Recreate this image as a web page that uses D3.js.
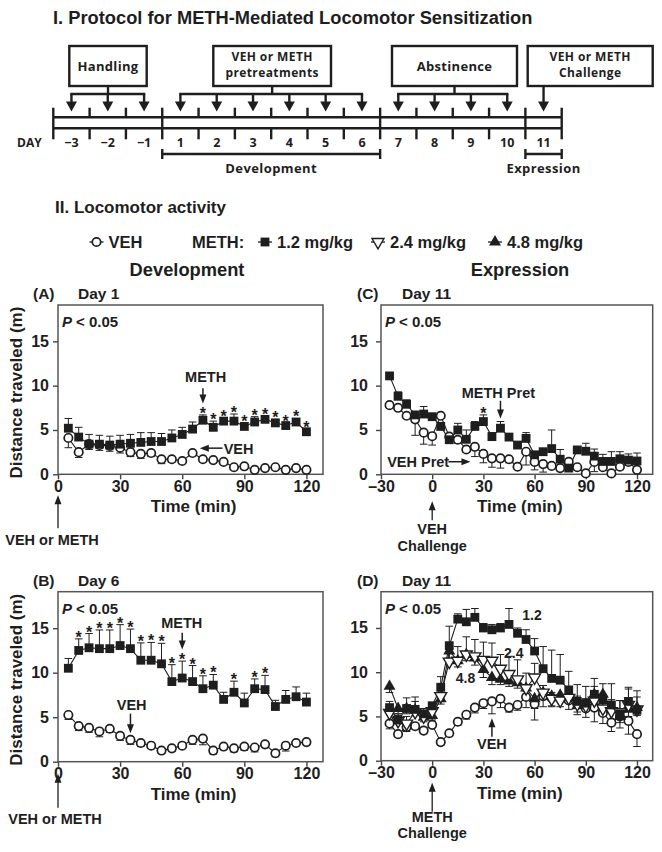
<!DOCTYPE html>
<html><head><meta charset="utf-8">
<script src="https://cdn.jsdelivr.net/npm/d3@7/dist/d3.min.js"></script>
<style>body{margin:0;background:#fff}svg{display:block}</style>
</head><body><svg id="c" width="662" height="852"></svg>
<script>
// ---------------- DATA ----------------
const protoDays = ["\u22123","\u22122","\u22121","1","2","3","4","5","6","7","8","9","10","11"];
const protoBoxLabels = [["Handling"],["VEH or METH","pretreatments"],["Abstinence"],["VEH or METH","Challenge"]];
const protoArrowCells = [[0,1,2],[3,4,5,6,7,8],[9,10,11,12],[13]];
const protoPhases = ["Development","Expression"];
const protoPhaseCells = [[3,9],[13,14]];

const legendLabels = ["VEH","1.2 mg/kg","2.4 mg/kg","4.8 mg/kg"];

const timeDev = [5,10,15,20,25,30,35,40,45,50,55,60,65,70,75,80,85,90,95,100,105,110,115,120];
const timeExp = [-25,-20,-15,-10,-5,0,5,10,15,20,25,30,35,40,45,50,55,60,65,70,75,80,85,90,95,100,105,110,115,120];
const yTickVals = [0,5,10,15];
const xTickDev = [0,30,60,90,120];
const xTickExp = [-30,0,30,60,90,120];

// (A) Day 1
const aMeth    = [5.2,4.2,3.4,3.4,3.3,3.4,3.5,3.6,3.7,3.7,4.1,4.5,5.1,6.1,5.3,6.0,6.0,5.4,5.9,6.2,5.8,5.5,5.9,4.8];
const aMethErr = [1.1,1.1,1.1,1.0,1.0,1.0,1.0,1.1,1.0,0.9,0.9,0.8,0.8,0.6,0.7,0.3,0.8,0.4,0.6,0.4,0.4,0.3,0.4,0.3];
const aVeh     = [4.1,2.5,3.4,3.3,3.2,3.0,2.5,2.3,2.4,1.7,1.7,1.5,2.4,1.7,1.6,1.4,0.8,0.9,0.5,0.7,0.8,0.5,0.7,0.5];
const aVehErr  = [1.1,0.6,0.6,0.6,0.6,0.6,0.5,0.5,0.4,0.5,0.3,0.2,0.3,0.3,0.2,0.2,0.2,0.2,0.2,0.2,0.2,0.2,0.2,0.2];
const aStars   = [70,75,80,85,90,95,100,105,110,115,120];

// (B) Day 6
const bMeth    = [10.5,12.5,12.8,12.7,12.7,13.05,12.7,11.4,11.4,11.0,9.0,9.4,9.0,8.2,8.6,7.0,7.8,6.6,8.2,8.1,6.2,7.0,7.3,6.7];
const bMethErr = [1.1,1.3,1.6,2.1,2.1,2.35,2.2,1.95,2.0,2.3,1.9,1.9,1.8,1.45,1.2,0.8,1.25,1.1,1.1,1.6,0.7,1.0,1.1,1.0];
const bVeh     = [5.25,4.0,3.8,3.4,3.7,2.9,2.45,2.1,1.8,1.25,1.5,1.8,2.45,2.6,1.25,1.7,1.5,1.7,1.6,1.95,0.95,1.8,2.1,2.2];
const bVehErr  = [0.5,0.5,0.5,0.6,0.4,0.5,0.5,0.4,0.3,0.3,0.3,0.3,0.5,0.7,0.4,0.3,0.4,0.4,0.5,0.3,0.4,0.6,0.3,0.3];
const bStars   = [10,15,20,25,30,35,40,45,50,55,60,65,70,75,85,95,100];

// (C) Day 11, VEH challenge
const cMeth    = [11.1,8.8,7.9,6.7,6.8,6.5,5.4,3.9,5.0,3.95,5.4,5.95,4.25,5.2,4.2,3.3,4.05,2.2,2.55,2.9,1.7,0.7,2.75,2.6,2.05,1.45,1.45,1.75,1.6,1.5];
const cMethErr = [0.3,0.5,0.5,0.3,0.85,0.2,0.45,0.55,0.75,1.05,0.55,0.75,0.45,0.75,0.2,0.2,0.65,0.35,0.25,2.1,1.1,0.55,0.2,0.9,0.8,0.8,1.1,0.8,0.7,0.9];
const cVeh     = [7.8,7.5,6.6,6.2,4.7,4.3,6.6,4.25,3.9,2.8,3.1,2.3,1.8,1.8,1.7,0.85,2.55,1.4,1.15,0.95,0.7,1.4,0.8,0.1,1.4,0.8,0.1,0.85,1.4,0.5];
const cVehErr  = [0.2,0.2,0.3,1.8,1.3,1.0,0.3,0.3,0.4,0.3,1.1,1.0,1.0,1.1,0.4,0.2,1.5,0.9,0.9,0.2,0.2,0.3,0.2,0.1,1.1,0.3,0.1,0.3,0.4,0.2];
const cStars   = [30];

// (D) Day 11, METH challenge
const dMeth12    = [6.0,4.6,5.9,5.8,5.3,6.2,8.3,13.0,16.0,15.7,16.2,15.0,14.8,15.0,15.4,14.4,13.7,12.4,10.4,9.3,9.1,8.0,6.7,6.5,7.5,6.9,6.3,5.3,6.7,5.7];
const dMeth12Err = [0.7,0.7,1.2,0.9,0.6,0.4,1.2,2.2,0.6,1.4,1.0,0.5,0.6,0.5,1.8,0.6,1.1,1.4,2.5,3.2,2.9,2.1,1.9,1.9,1.8,1.8,2.4,1.5,1.6,1.5];
const dMeth24    = [5.4,4.5,4.2,5.5,5.0,5.6,7.3,11.2,11.3,12.0,11.8,11.4,11.3,10.4,9.8,9.2,8.2,9.4,7.7,7.0,6.8,7.1,6.4,6.2,6.8,5.9,5.6,5.5,6.3,5.8];
const dMeth24Err = [0.8,0.6,0.8,1.7,0.5,0.5,0.6,1.6,1.6,2.0,1.9,2.0,2.0,1.6,2.0,2.2,1.7,1.6,0.8,0.7,0.7,1.0,0.9,0.8,1.6,1.6,1.3,1.3,1.8,2.1];
const dMeth48    = [8.4,5.9,5.9,5.7,4.9,5.1,7.0,12.4,11.3,12.0,11.6,10.3,9.4,9.2,9.0,8.8,8.2,7.0,7.7,7.3,7.4,7.2,6.2,6.4,7.5,7.5,5.8,5.0,5.8,6.0];
const dMeth48Err = [0.7,0.6,0.6,0.6,0.5,0.5,0.6,0.8,0.7,0.7,0.8,0.9,0.8,0.6,0.6,0.6,0.8,1.1,0.8,1.1,0.6,0.5,0.7,0.5,1.3,1.6,1.4,0.7,0.8,0.9];
const dVeh       = [4.2,3.0,3.8,3.9,3.4,4.05,2.1,3.1,4.4,5.2,6.0,6.5,6.7,7.0,6.0,6.3,7.2,6.4,7.3,7.1,7.0,6.8,6.4,5.9,6.0,5.4,4.3,5.0,4.5,3.0];
const dVehErr    = [0.6,0.3,0.5,0.3,0.3,0.3,0.3,0.3,0.4,0.5,0.6,0.6,1.4,1.0,0.5,0.6,1.2,1.8,1.2,1.0,0.9,1.0,1.2,1.0,1.6,1.2,1.0,1.3,1.5,1.4];

// ---------------- DRAWING ----------------
const svg = d3.select("#c");
const INK = "#1e1e1e";
const SANS = "'Liberation Sans', Arial, Helvetica, sans-serif";
const PROTO = "'Open Sans', 'DejaVu Sans', sans-serif";

function arrow(g, x1, y1, x2, y2, o) {
  o = Object.assign({w:1.5, hl:9, hw:7}, o || {});
  const dx = x2 - x1, dy = y2 - y1, L = Math.hypot(dx, dy), ux = dx / L, uy = dy / L;
  const bx = x2 - ux * o.hl, by = y2 - uy * o.hl;
  g.append("line").attr("x1", x1).attr("y1", y1).attr("x2", bx + ux).attr("y2", by + uy)
    .attr("stroke", INK).attr("stroke-width", o.w);
  g.append("path").attr("d", `M${x2},${y2}L${bx - uy * o.hw / 2},${by + ux * o.hw / 2}L${bx + uy * o.hw / 2},${by - ux * o.hw / 2}Z`)
    .attr("fill", INK);
}
function txt(g, x, y, s, size, o) {
  o = o || {};
  return g.append("text").attr("x", x).attr("y", y).text(s)
    .attr("font-family", o.family || SANS).attr("font-weight", o.weight || "bold")
    .attr("font-size", size).attr("fill", INK)
    .attr("text-anchor", o.anchor || "start")
    .attr("font-style", o.style || null)
    .attr("letter-spacing", o.ls || null);
}

// ---- Section I: protocol ----
txt(svg, 53, 24, "I. Protocol for METH-Mediated Locomotor Sensitization", 18.3);

const pg = svg.append("g");
const cell = d3.scaleLinear().domain([0, protoDays.length]).range([53.3, 561.7]);
const lineY1 = 117.3, lineY2 = 128.3, tickTop = 107.7, tickBot = 139.3;
const SW = 2.4;
pg.append("line").attr("x1", cell(0)).attr("x2", cell(14)).attr("y1", lineY1).attr("y2", lineY1).attr("stroke", INK).attr("stroke-width", SW);
pg.append("line").attr("x1", cell(0)).attr("x2", cell(14)).attr("y1", lineY2).attr("y2", lineY2).attr("stroke", INK).attr("stroke-width", SW);
const majorBounds = [0, 3, 9, 13, 14];
d3.range(0, 15).forEach(i => {
  const x = cell(i);
  if (majorBounds.includes(i)) {
    pg.append("line").attr("x1", x).attr("x2", x).attr("y1", tickTop).attr("y2", tickBot).attr("stroke", INK).attr("stroke-width", SW);
  } else {
    pg.append("line").attr("x1", x).attr("x2", x).attr("y1", tickTop).attr("y2", lineY1).attr("stroke", INK).attr("stroke-width", SW);
    pg.append("line").attr("x1", x).attr("x2", x).attr("y1", lineY2).attr("y2", tickBot).attr("stroke", INK).attr("stroke-width", SW);
  }
});
protoDays.forEach((d, i) => txt(pg, cell(i + 0.5), 146.5, d, 12.5, {family: PROTO, anchor: "middle"}));
txt(pg, 17, 146.5, "DAY", 12, {family: PROTO});

const boxX = [[69.3, 146.7], [213.3, 331], [392, 517], [527.7, 652.7]];
const boxTop = 46, boxBot = 86, barY = 94, arrowTip = 111.5;
protoBoxLabels.forEach((lab, k) => {
  const [x0, x1] = boxX[k];
  pg.append("rect").attr("x", x0).attr("y", boxTop).attr("width", x1 - x0).attr("height", boxBot - boxTop)
    .attr("fill", "#fff").attr("stroke", INK).attr("stroke-width", SW);
  const cx = (x0 + x1) / 2;
  if (lab.length === 1) txt(pg, cx, 71, lab[0], 13, {family: PROTO, anchor: "middle", ls: 0.3});
  else lab.forEach((l, j) => txt(pg, cx, 60.5 + j * 16.8, l, 12, {family: PROTO, anchor: "middle", ls: 0.4}));
  const cells = protoArrowCells[k];
  const xs = cells.map(c => cell(c + 0.5));
  if (cells.length > 1) {
    pg.append("line").attr("x1", cx).attr("x2", cx).attr("y1", boxBot).attr("y2", barY).attr("stroke", INK).attr("stroke-width", SW);
    pg.append("line").attr("x1", xs[0] - SW / 2).attr("x2", xs[xs.length - 1] + SW / 2).attr("y1", barY).attr("y2", barY).attr("stroke", INK).attr("stroke-width", SW);
    xs.forEach(x => arrow(pg, x, barY, x, arrowTip, {w: SW, hl: 10, hw: 11}));
  } else {
    arrow(pg, xs[0], boxBot, xs[0], arrowTip, {w: SW, hl: 10, hw: 11});
  }
});
protoPhases.forEach((p, k) => {
  const [c0, c1] = protoPhaseCells[k];
  const x0 = cell(c0), x1 = cell(c1), y = 154;
  pg.append("line").attr("x1", x0).attr("x2", x1).attr("y1", y).attr("y2", y).attr("stroke", INK).attr("stroke-width", SW);
  pg.append("line").attr("x1", x0).attr("x2", x0).attr("y1", y - 5).attr("y2", y + 5).attr("stroke", INK).attr("stroke-width", SW);
  pg.append("line").attr("x1", x1).attr("x2", x1).attr("y1", y - 5).attr("y2", y + 5).attr("stroke", INK).attr("stroke-width", SW);
  txt(pg, (x0 + x1) / 2, 173, p, 13, {family: PROTO, anchor: "middle", ls: 0.4});
});

// ---- Section II ----
txt(svg, 55, 213.3, "II. Locomotor activity", 17);

// markers
const symSquare = d3.symbol(d3.symbolSquare, 78)();
const symTri = d3.symbol(d3.symbolTriangle, 62)();
function marker(g, kind, x, y) {
  if (kind === "circle") {
    g.append("circle").attr("cx", x).attr("cy", y).attr("r", 4.2).attr("fill", "#fff").attr("stroke", INK).attr("stroke-width", 1.7);
  } else if (kind === "square") {
    g.append("path").attr("d", symSquare).attr("transform", `translate(${x},${y})`).attr("fill", INK);
  } else if (kind === "triDown") {
    g.append("path").attr("d", symTri).attr("transform", `translate(${x},${y}) rotate(180)`).attr("fill", "#fff").attr("stroke", INK).attr("stroke-width", 1.4);
  } else if (kind === "triUp") {
    g.append("path").attr("d", symTri).attr("transform", `translate(${x},${y})`).attr("fill", INK);
  }
}

// legend
const lg = svg.append("g");
const legY = 242;
const legKinds = ["circle", "square", "triDown", "triUp"];
const legMarkX = [96.5, 265, 378, 495];
legKinds.forEach((k, i) => {
  const x = legMarkX[i];
  lg.append("line").attr("x1", x - 7).attr("x2", x + 7).attr("y1", legY).attr("y2", legY).attr("stroke", INK).attr("stroke-width", 1.3);
  marker(lg, k, x, legY);
  txt(lg, x + 12, legY + 6, legendLabels[i], 16.5);
});
txt(lg, 192, legY + 6, "METH:", 16.5);

// column headings
txt(svg, 187, 276, "Development", 18.3, {anchor: "middle"});
txt(svg, 520, 276, "Expression", 18.3, {anchor: "middle"});

// ---- panels ----
function drawPanel(cfg) {
  const g = svg.append("g");
  const x = d3.scaleLinear().domain(cfg.xDomain).range([cfg.l, cfg.r]);
  const y = d3.scaleLinear().domain([0, 19.1]).range([cfg.b, cfg.t]);

  // titles
  txt(g, cfg.titleX, cfg.t - 6, cfg.letter, 15.5);
  txt(g, cfg.titleX + 45, cfg.t - 6, cfg.day, 15.5);

  // axes
  const ya = g.append("g").attr("transform", `translate(${cfg.l},0)`)
    .call(d3.axisLeft(y).tickValues(yTickVals).tickSize(5).tickPadding(cfg.yPad || 4));
  const xa = g.append("g").attr("transform", `translate(0,${cfg.b})`)
    .call(d3.axisBottom(x).tickValues(cfg.xTicks).tickSize(5).tickPadding(1)
      .tickFormat(d => d < 0 ? "\u2013" + Math.abs(d) : d));
  [ya, xa].forEach(a => {
    a.select(".domain").remove();
    a.selectAll("line").attr("stroke", "#444").attr("stroke-width", 1.4);
    a.selectAll("text").attr("font-family", SANS).attr("font-weight", "bold").attr("font-size", 16).attr("fill", INK);
  });
  ya.selectAll("text").attr("dy", "0.3em");
  g.append("rect").attr("x", cfg.l).attr("y", cfg.t).attr("width", cfg.r - cfg.l).attr("height", cfg.b - cfg.t)
    .attr("fill", "none").attr("stroke", "#555").attr("stroke-width", 1.5);

  txt(g, (cfg.l + cfg.r) / 2 + 3, cfg.b + 38, "Time (min)", 17, {anchor: "middle"});
  if (cfg.yLabel) {
    txt(g, 0, 0, "Distance traveled (m)", 17, {anchor: "middle"})
      .attr("transform", `translate(22,${(cfg.t + cfg.b) / 2 + 3}) rotate(-90)`);
  }
  txt(g, cfg.l + 4, cfg.t + 22, "P", 15, {style: "italic"});
  txt(g, cfg.l + 18, cfg.t + 22, "< 0.05", 15);

  const series = cfg.series;
  // lines
  series.forEach(s => {
    g.append("path").datum(cfg.time.map((t, i) => [t, s.vals[i]]))
      .attr("d", d3.line().x(d => x(d[0])).y(d => y(d[1])))
      .attr("fill", "none").attr("stroke", INK).attr("stroke-width", 1.1);
  });
  // error bars
  series.forEach(s => {
    cfg.time.forEach((t, i) => {
      const v = s.vals[i], e = s.errs[i];
      const ye = y(v + s.dir * e), xx = x(t);
      g.append("line").attr("x1", xx).attr("x2", xx).attr("y1", y(v)).attr("y2", ye).attr("stroke", INK).attr("stroke-width", 1);
      g.append("line").attr("x1", xx - 3.8).attr("x2", xx + 3.8).attr("y1", ye).attr("y2", ye).attr("stroke", INK).attr("stroke-width", 1);
    });
  });
  // markers
  series.slice().reverse().forEach(s => {
    cfg.time.forEach((t, i) => marker(g, s.kind, x(t), y(s.vals[i])));
  });
  // stars
  if (cfg.stars) {
    const s = series[cfg.starSeries];
    cfg.stars.forEach(t => {
      const i = cfg.time.indexOf(t);
      txt(g, x(t), y(s.vals[i] + s.errs[i]) + 4, "*", 16, {anchor: "middle"});
    });
  }
  if (cfg.annot) cfg.annot(g, x, y, cfg);
}

const vArrow = (g, x, y, t, v1, v2) => arrow(g, x(t), y(v1), x(t), y(v2), {w: 1.5, hl: 9, hw: 7});

drawPanel({
  letter: "(A)", day: "Day 1", titleX: 33, yLabel: true,
  l: 58, r: 323, t: 305, b: 474.3, xDomain: [0, 128], xTicks: xTickDev, time: timeDev,
  series: [{vals: aMeth, errs: aMethErr, dir: 1, kind: "square"}, {vals: aVeh, errs: aVehErr, dir: -1, kind: "circle"}],
  stars: aStars, starSeries: 0,
  annot: (g, x, y, c) => {
    txt(g, x(71.3), y(10.4), "METH", 14.5, {anchor: "middle"});
    vArrow(g, x, y, 70, 9.7, 8.0);
    arrow(g, x(79.5), y(2.95), x(68.5), y(2.95), {w: 1.5, hl: 9, hw: 7});
    txt(g, x(80), y(2.3), "VEH", 14.5);
    arrow(g, x(0), c.b + 54, x(0), c.b + 21, {w: 1.3, hl: 9, hw: 7});
    txt(g, 52, c.b + 71, "VEH or METH", 14.5, {anchor: "middle"});
  }
});

drawPanel({
  letter: "(B)", day: "Day 6", titleX: 33, yLabel: true,
  l: 58, r: 323, t: 591.7, b: 761.7, xDomain: [0, 128], xTicks: xTickDev, time: timeDev,
  series: [{vals: bMeth, errs: bMethErr, dir: 1, kind: "square"}, {vals: bVeh, errs: bVehErr, dir: -1, kind: "circle"}],
  stars: bStars, starSeries: 0,
  annot: (g, x, y, c) => {
    txt(g, x(59.8), y(15.05), "METH", 14.5, {anchor: "middle"});
    vArrow(g, x, y, 60, 14.5, 12.6);
    txt(g, x(35.6), y(5.85), "VEH", 14.5, {anchor: "middle"});
    vArrow(g, x, y, 35, 5.4, 3.2);
    arrow(g, x(0), c.b + 46, x(0), c.b + 12, {w: 1.3, hl: 9, hw: 7});
    txt(g, 55, c.b + 62, "VEH or METH", 14.5, {anchor: "middle"});
  }
});

drawPanel({
  letter: "(C)", day: "Day 11", titleX: 357, yPad: 8,
  l: 381, r: 652.7, t: 305, b: 474.3, xDomain: [-30, 129.2], xTicks: xTickExp, time: timeExp,
  series: [{vals: cMeth, errs: cMethErr, dir: 1, kind: "square"}, {vals: cVeh, errs: cVehErr, dir: -1, kind: "circle"}],
  stars: cStars, starSeries: 0,
  annot: (g, x, y, c) => {
    txt(g, x(38.8), y(8.66), "METH Pret", 14.5, {anchor: "middle"});
    vArrow(g, x, y, 40, 8.3, 6.3);
    txt(g, x(-26.4), y(0.85), "VEH Pret", 14.5);
    arrow(g, x(9.5), y(1.42), x(22.4), y(1.42), {w: 1.5, hl: 9, hw: 7});
    arrow(g, x(0), c.b + 46, x(0), c.b + 27, {w: 1.3, hl: 9, hw: 7});
    txt(g, x(0), c.b + 60, "VEH", 14.5, {anchor: "middle"});
    txt(g, x(0), c.b + 77, "Challenge", 14.5, {anchor: "middle"});
  }
});

drawPanel({
  letter: "(D)", day: "Day 11", titleX: 357, yPad: 8,
  l: 381, r: 652.7, t: 591.7, b: 760.7, xDomain: [-30, 129.2], xTicks: xTickExp, time: timeExp,
  series: [
    {vals: dMeth12, errs: dMeth12Err, dir: 1, kind: "square"},
    {vals: dMeth24, errs: dMeth24Err, dir: 1, kind: "triDown"},
    {vals: dMeth48, errs: dMeth48Err, dir: -1, kind: "triUp"},
    {vals: dVeh, errs: dVehErr, dir: -1, kind: "circle"}
  ],
  annot: (g, x, y, c) => {
    txt(g, x(58.5), y(15.9), "1.2", 14, {anchor: "middle"});
    txt(g, x(47.8), y(11.6), "2.4", 14, {anchor: "middle"});
    txt(g, x(19.5), y(8.8), "4.8", 14, {anchor: "middle"});
    txt(g, x(35), y(1.3), "VEH", 14.5, {anchor: "middle"});
    vArrow(g, x, y, 35, 2.7, 4.8);
    arrow(g, x(0), c.b + 51, x(0), c.b + 22, {w: 1.3, hl: 9, hw: 7});
    txt(g, x(0), c.b + 61, "METH", 14.5, {anchor: "middle"});
    txt(g, x(0), c.b + 77, "Challenge", 14.5, {anchor: "middle"});
  }
});
</script></body></html>
